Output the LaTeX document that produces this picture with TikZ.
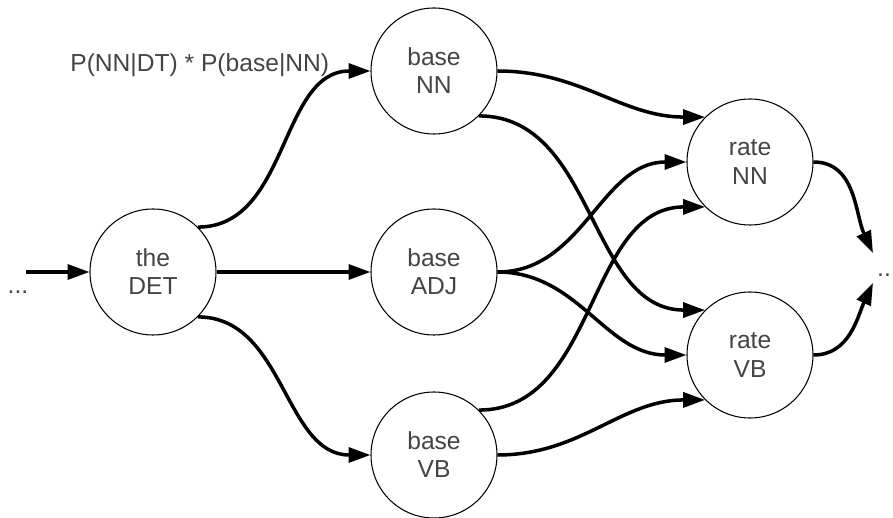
\documentclass[tikz,border=0pt]{standalone}
\usepackage{fontspec}
\setmainfont{Liberation Sans}
\usetikzlibrary{arrows.meta}
\definecolor{textgray}{HTML}{444444}
\begin{document}
\begin{tikzpicture}
	\tikzstyle{Vertex} = [circle, draw, line width=0.6pt, minimum size=2.52cm, inner sep=0pt, align=center, text=textgray, font=\fontsize{14}{16}\selectfont]
	\tikzstyle{Edge} = [line width=2pt, -{Triangle[length=12.5pt,width=8.5pt]}]
	\tikzstyle{Dots} = [anchor=base, inner sep=0pt, text=textgray, font=\fontsize{14}{16}\selectfont]
	\useasboundingbox (0,0) rectangle (17.86,10.36);
	\node (the) at (3.06,4.92) [Vertex, fill=white] {the\\DET};
	\node (baseNN) at (8.68,8.94) [Vertex, fill=white] {base\\NN};
	\node (baseADJ) at (8.68,4.92) [Vertex, fill=white] {base\\ADJ};
	\node (baseVB) at (8.68,1.26) [Vertex, fill=white] {base\\VB};
	\node (rateNN) at (15.0,7.12) [Vertex, fill=white] {rate\\NN};
	\node (rateVB) at (15.0,3.26) [Vertex, fill=white] {rate\\VB};
	\node (prob) at (1.4,9.06) [anchor=west, inner sep=0pt, text=textgray, font=\fontsize{14}{16}\selectfont] {P(NN|DT) * P(base|NN)};
	\node (dotsin) at (0.36,4.48) [Dots] {...};
	\node (dotsout) at (17.68,4.82) [Dots] {..};
	\coordinate (in) at (0.52,4.92);
	\coordinate (out1) at (17.46,5.30);
	\coordinate (out2) at (17.46,4.70);
	\draw [Edge] (in) to (the);
	\draw [Edge] (the.45) to [out=0, in=180] (baseNN.west);
	\draw [Edge] (the) to (baseADJ);
	\draw [Edge] (the.-45) to [out=0, in=180] (baseVB.west);
	\draw [Edge] (baseNN.east) to [out=0, in=180] (rateNN.135);
	\draw [Edge] (baseNN.-45) to [out=0, in=180] (rateVB.135);
	\draw [Edge] (baseADJ.east) to [out=0, in=180] (rateNN.west);
	\draw [Edge] (baseADJ.east) to [out=0, in=180] (rateVB.west);
	\draw [Edge] (baseVB.45) to [out=0, in=180] (rateNN.-135);
	\draw [Edge] (baseVB.east) to [out=0, in=180] (rateVB.-135);
	\draw [Edge] (rateNN.east) to [out=0, in=115] (out1);
	\draw [Edge] (rateVB.east) to [out=0, in=-115] (out2);
\end{tikzpicture}
\end{document}
